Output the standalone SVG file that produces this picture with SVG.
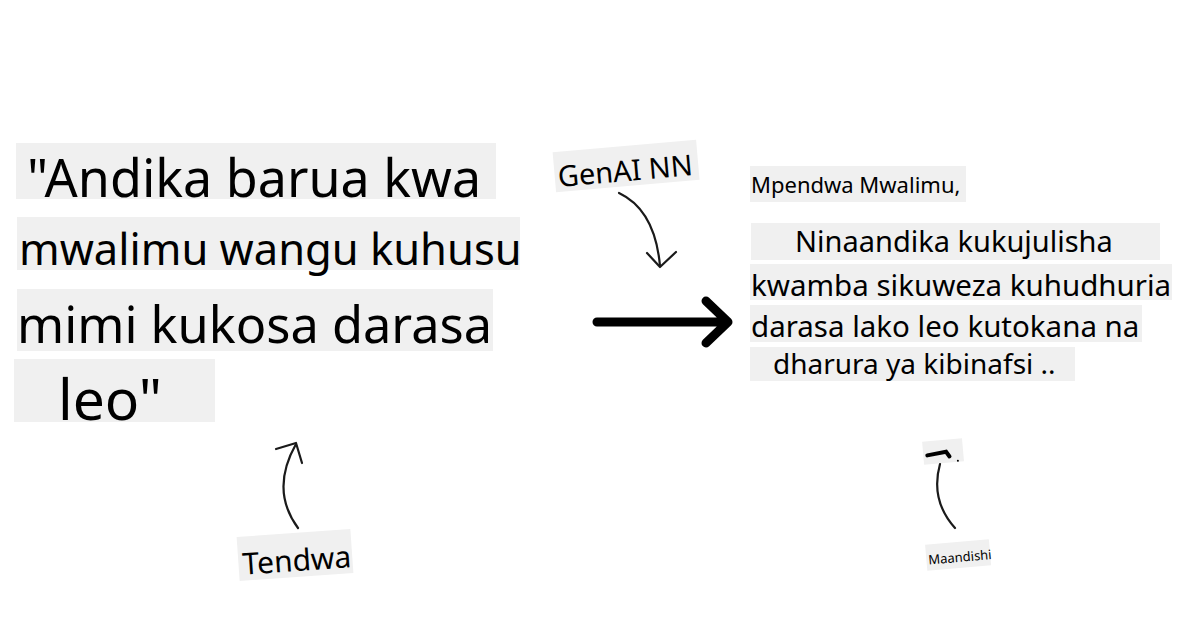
<svg xmlns="http://www.w3.org/2000/svg" width="1200" height="628" viewBox="0 0 1200 628">
<style>
.bg{fill:#f0f0f0}
.t{font-family:"Noto Sans","Open Sans",sans-serif;fill:#000}
.c{fill:none;stroke:#1a1a1a;stroke-width:2.2;stroke-linecap:round;stroke-linejoin:round}
</style>
<rect width="1200" height="628" fill="#fff"/>
<g id="prompt">
<rect class="bg" x="16" y="143" width="480" height="56"/>
<rect class="bg" x="17" y="217" width="503" height="53"/>
<rect class="bg" x="17" y="289" width="476" height="62"/>
<rect class="bg" x="14" y="359" width="201" height="63"/>
<text class="t" x="27" y="197" font-size="52">"Andika barua kwa</text>
<text class="t" x="19" y="265" font-size="43.5">mwalimu wangu kuhusu</text>
<text class="t" x="17" y="343" font-size="50.5">mimi kukosa darasa</text>
<text class="t" x="58" y="420" font-size="57">leo"</text>
</g>
<g id="output">
<rect class="bg" x="750" y="166" width="216" height="36"/>
<rect class="bg" x="751" y="223" width="409" height="37"/>
<rect class="bg" x="750" y="264" width="422" height="36"/>
<rect class="bg" x="750" y="305" width="392" height="37"/>
<rect class="bg" x="750" y="347" width="325" height="34"/>
<text class="t" x="751" y="193" font-size="22">Mpendwa Mwalimu,</text>
<text class="t" x="795" y="252" font-size="29">Ninaandika kukujulisha</text>
<text class="t" x="751" y="296" font-size="29.5">kwamba sikuweza kuhudhuria</text>
<text class="t" x="751" y="337" font-size="29.5">darasa lako leo kutokana na</text>
<text class="t" x="773" y="374" font-size="28">dharura ya kibinafsi ..</text>
</g>
<g id="genai" transform="rotate(-5 626 165)">
<rect class="bg" x="554" y="146" width="144" height="40"/>
<text class="t" x="557" y="181" font-size="29">GenAI NN</text>
</g>
<g id="tendwa" transform="rotate(-4 295 555)">
<rect class="bg" x="238" y="533" width="114" height="44"/>
<text class="t" x="242" y="571" font-size="30">Tendwa</text>
</g>
<g id="maandishi" transform="rotate(-5 958 554)">
<rect class="bg" x="926" y="542" width="64" height="26"/>
<text class="t" x="928" y="562" font-size="13">Maandishi</text>
</g>
<g id="mark" transform="rotate(-5 943 451)">
<rect class="bg" x="923" y="440" width="40" height="23"/>
<path d="M927 454 L946 452 L949 457" fill="none" stroke="#000" stroke-width="4" stroke-linecap="round"/>
<circle cx="957" cy="462" r="1" fill="#000"/>
</g>
<g id="connectors">
<path class="c" d="M619 193 Q655 210 660 266"/>
<path class="c" d="M647 253 L660 267 L676 252"/>
<path d="M597 322 L726 322 M706 301 L728 322 L706 343" fill="none" stroke="#000" stroke-width="9" stroke-linecap="round" stroke-linejoin="round"/>
<path class="c" d="M298 528 Q270 490 296 444"/>
<path class="c" d="M276 449 L296 443 L302 463"/>
<path class="c" d="M955 528 Q930 500 940 464"/>
</g>
</svg>
